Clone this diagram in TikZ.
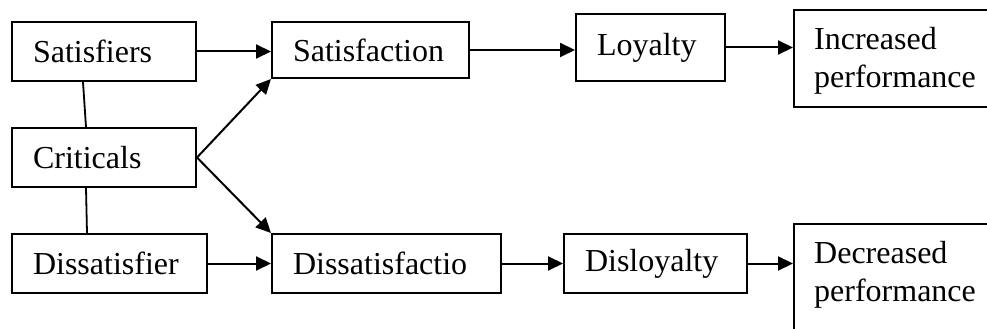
\documentclass[tikz,border=0pt]{standalone}
\usepackage{fontspec}
\setmainfont{Liberation Serif}
\usetikzlibrary{arrows.meta,calc}
\begin{document}
\begin{tikzpicture}[x=1pt,y=-1pt,
  font=\fontsize{32}{38}\selectfont,
  box/.style={draw, line width=2pt, rectangle, anchor=north west,
    inner xsep=21pt, inner ysep=0pt, align=left},
  lbl/.style={anchor=north west, inner sep=0pt, align=left},
  flow/.style={line width=2pt, -{Triangle[length=15pt,width=14pt]}},
  link/.style={line width=1.8pt}]
\clip (0,0) rectangle (987,329);
\fill[white] (0,0) rectangle (987,329);

% left column
\node[box, minimum width=184pt, text width=142pt, minimum height=59pt] (satr) at (11,21) {Satisfiers};
\node[box, minimum width=184pt, text width=142pt, minimum height=59pt] (crit) at (11,127) {Criticals};
\node[box, minimum width=195pt, text width=153pt, minimum height=59pt] (dsat) at (11,233) {Dissatisfier};

% second column
\node[box, minimum width=197pt, text width=155pt, minimum height=56pt] (satn) at (271,21) {Satisfaction};
\node[box, minimum width=229pt, text width=187pt, minimum height=59pt] (dsatn) at (271,233) {Dissatisfactio};

% third column
\node[box, minimum width=149pt, text width=107pt, minimum height=67pt] (loy) at (575,13) {Loyalty};
\node[box, minimum width=183pt, text width=141pt, minimum height=59pt] (dloy) at (563,233) {Disloyalty};

% outcome boxes, running past the right and bottom edges
\node[box, minimum width=220pt, text width=178pt, minimum height=97pt] (inc) at (793,9) {};
\node[lbl] (inct) at (814,27) {Increased\\performance};
\node[box, minimum width=220pt, text width=178pt, minimum height=130pt] (dec) at (793,223) {};
\node[lbl] (dect) at (814,241) {Decreased\\performance};

% plain links between the left boxes
\draw[link] ([xshift=72pt]satr.south west) -- ([xshift=75pt]crit.north west);
\draw[link] ([xshift=75pt]crit.south west) -- ([xshift=76pt]dsat.north west);

% arrows
\draw[flow] (satr.east) -- (satn.west |- satr.east);
\draw[flow] (crit.east) -- (satn.south west);
\draw[flow] (crit.east) -- (dsatn.north west);
\draw[flow] (dsat.east) -- (dsatn.west |- dsat.east);
\draw[flow] (satn.east) -- (loy.west |- satn.east);
\draw[flow] (dsatn.east) -- (dloy.west |- dsatn.east);
\draw[flow] (loy.east) -- (inc.west |- loy.east);
\draw[flow] (dloy.east) -- (dec.west |- dloy.east);
\end{tikzpicture}
\end{document}
